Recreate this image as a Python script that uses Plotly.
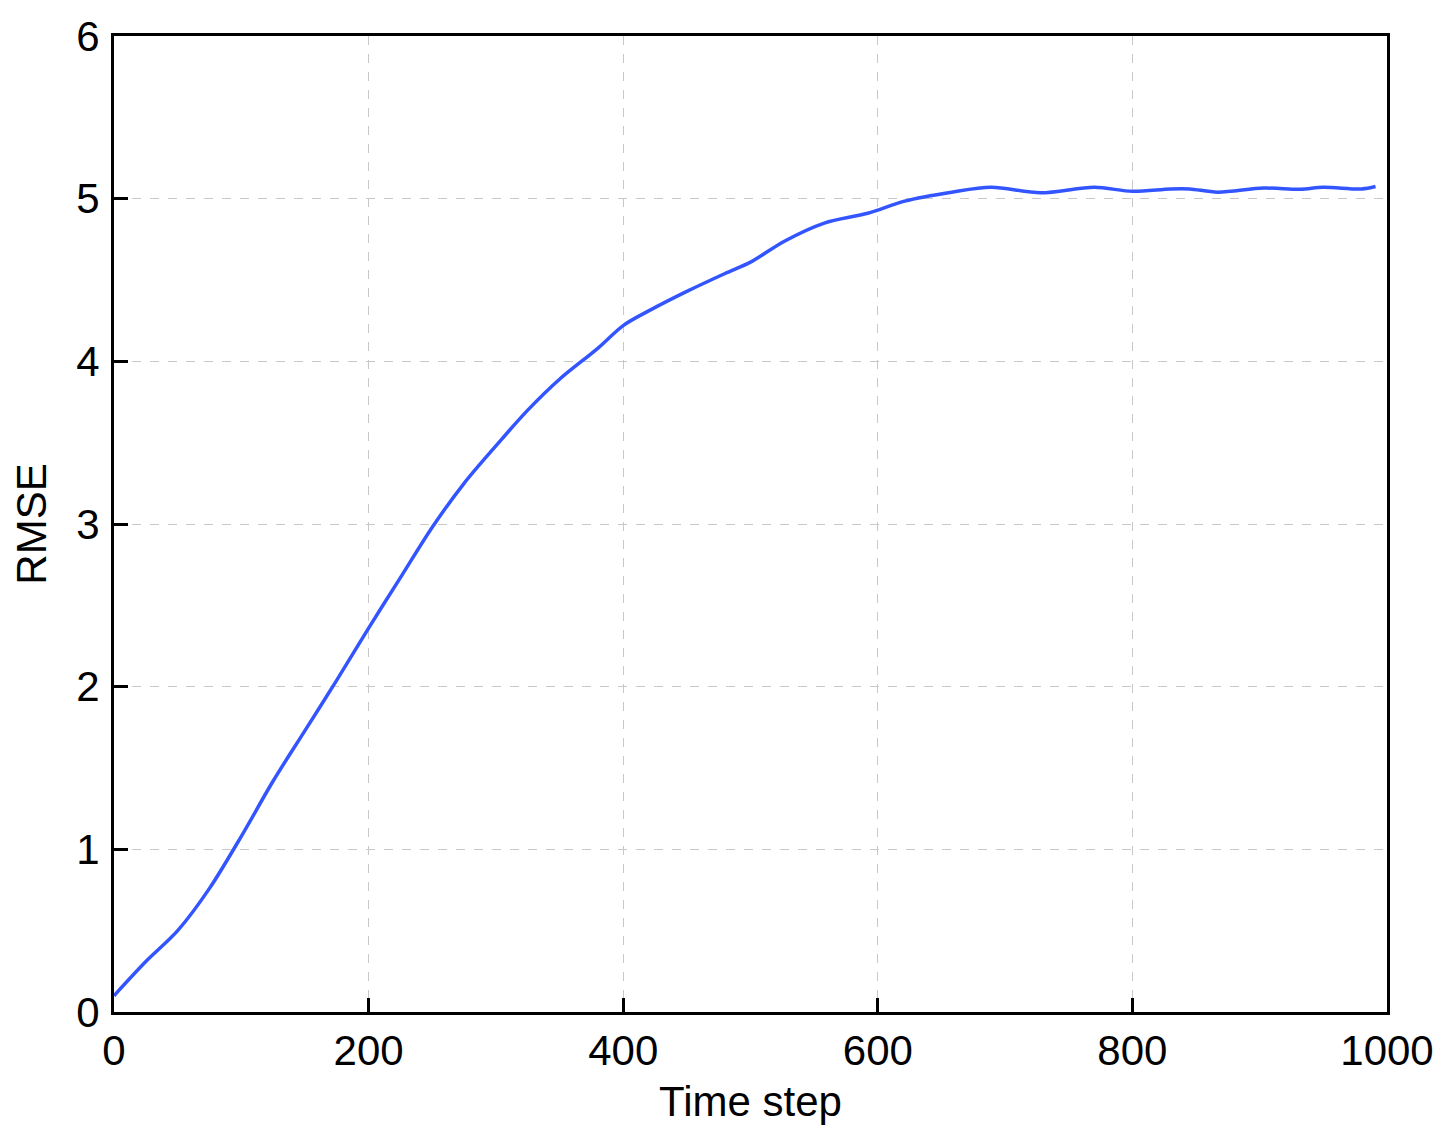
import plotly.graph_objects as go

time_step = [0, 25, 50, 75, 100, 125, 150, 175, 200, 225, 250, 275, 300, 325, 350,
             380, 400, 420, 450, 480, 500, 527, 558, 592, 621, 658, 689, 728, 770,
             800, 830, 845, 867, 903, 932, 950, 980, 991]
rmse = [0.10, 0.31, 0.50, 0.76, 1.08, 1.42, 1.73, 2.04, 2.36, 2.67, 2.98, 3.25, 3.48,
        3.70, 3.89, 4.08, 4.22, 4.31, 4.43, 4.54, 4.61, 4.74, 4.85, 4.91, 4.985, 5.04,
        5.07, 5.036, 5.07, 5.045, 5.06, 5.06, 5.04, 5.065, 5.058, 5.07, 5.06, 5.075]

fig = go.Figure()
fig.add_trace(go.Scatter(x=time_step, y=rmse, mode='lines',
                         line=dict(color='#3355ff', width=3.5, shape='spline', smoothing=0.9)))

axis_style = dict(showline=True, linecolor='black', linewidth=3, mirror=True,
                  ticks='inside', ticklen=14, tickwidth=3, tickcolor='black',
                  showgrid=True, gridcolor='#c8c8c8', griddash='dash', gridwidth=1,
                  zeroline=False, tickfont=dict(size=42, color='black'),
                  title_font=dict(size=42, color='black'),
                  automargin=False, ticklabeloverflow='allow')

fig.update_layout(
    width=1448, height=1146,
    plot_bgcolor='white', paper_bgcolor='white',
    showlegend=False,
    font=dict(family='Liberation Sans, Arial, sans-serif'),
    margin=dict(l=106, r=69, t=28, b=142),
    xaxis=dict(range=[0, 1000], dtick=200, title=dict(text='Time step', standoff=14), **axis_style),
    yaxis=dict(range=[0, 6], dtick=1, ticklabelstandoff=3,
               title=dict(text='RMSE', standoff=22), **axis_style),
)

fig.write_html("out.html")
